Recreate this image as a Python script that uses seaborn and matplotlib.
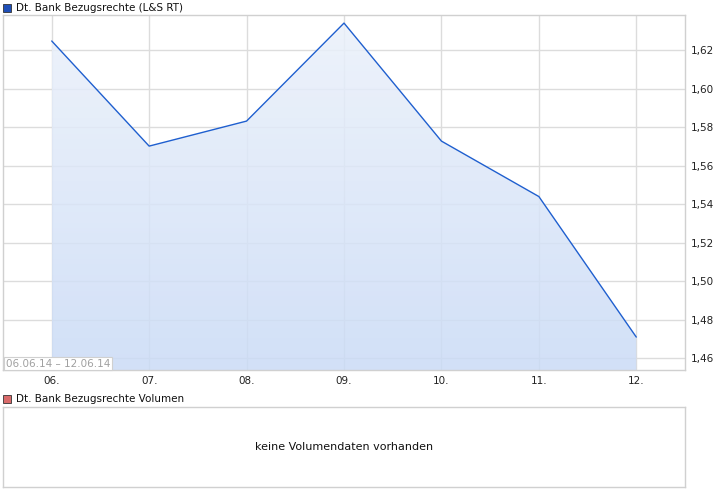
import numpy as np
import pandas as pd
import matplotlib
matplotlib.use("Agg")
import matplotlib.pyplot as plt
from matplotlib.patches import Rectangle
import seaborn as sns

# ==========================================================
# DATA
# ==========================================================

days = [6, 7, 8, 9, 10, 11, 12]
day_labels = ["06.", "07.", "08.", "09.", "10.", "11.", "12."]
prices = [1.6247, 1.5701, 1.5831, 1.6340, 1.5727, 1.5439, 1.4709]
y_ticks = [1.46, 1.48, 1.50, 1.52, 1.54, 1.56, 1.58, 1.60, 1.62]

title_main = "Dt. Bank Bezugsrechte (L&S RT)"
title_vol = "Dt. Bank Bezugsrechte Volumen"
range_label = "06.06.14 \u2013 12.06.14"
no_volume = "keine Volumendaten vorhanden"

df = pd.DataFrame({"day": days, "price": prices})

# ==========================================================
# STYLE
# ==========================================================

sns.set_style("white")
plt.rcParams["font.family"] = ["DejaVu Sans"]

W, H = 726, 496
LINE = "#1f5fcf"
GRID = "#dcdcdc"
EDGE = "#d0d0d0"
YMIN, YMAX = 1.4538, 1.6382

fig = plt.figure(figsize=(W / 100, H / 100), dpi=100)


def fig_box(x0, y0, x1, y1):
    # pixel box -> figure fraction
    return [x0 / W, 1 - y1 / H, (x1 - x0) / W, (y1 - y0) / H]


# ==================== MAIN PRICE PANEL ====================
ax = fig.add_axes(fig_box(3, 15, 685, 370))
ax.set_xlim(5.5, 12.5)
ax.set_ylim(YMIN, YMAX)

# gradient fill under the line (slightly translucent so the grid shows through)
grad = np.linspace(0, 1, 256).reshape(-1, 1)
cmap = matplotlib.colors.LinearSegmentedColormap.from_list(
    "fill", ["#cadbf6", "#ebf1fb"])
img = ax.imshow(grad, cmap=cmap, aspect="auto", origin="lower", alpha=0.85,
                extent=[days[0], days[-1], YMIN, max(prices)], zorder=1)
clip = matplotlib.path.Path(
    np.vstack([[days[0], YMIN]] + [[d, p] for d, p in zip(days, prices)] + [[days[-1], YMIN]]))
img.set_clip_path(clip, transform=ax.transData)

sns.lineplot(data=df, x="day", y="price", ax=ax, color=LINE, lw=1.0, zorder=3)

ax.set_xticks(days)
ax.set_xticklabels(day_labels)
ax.set_yticks(y_ticks)
ax.set_yticklabels([f"{v:.2f}".replace(".", ",") for v in y_ticks])
ax.yaxis.tick_right()
ax.grid(True, color=GRID, lw=1.0, zorder=0)
ax.set_axisbelow(True)
ax.tick_params(axis="both", length=0, labelsize=7.5, colors="#222222", pad=4)
ax.set_xlabel("")
ax.set_ylabel("")
for s in ax.spines.values():
    s.set_color(EDGE)
    s.set_linewidth(1.0)

# date range box in the lower left corner
ax.text(0.004, 0.004, range_label, transform=ax.transAxes, fontsize=7.5,
        color="#a0a0a0", ha="left", va="bottom", zorder=5,
        bbox=dict(boxstyle="square,pad=0.15", fc="white", ec=EDGE, lw=0.8))

# ==================== LEGEND ENTRIES ====================
fig.patches.append(Rectangle((3 / W, 1 - 12 / H), 8 / W, 8 / H, transform=fig.transFigure,
                             fc="#1f4fb8", ec="#333333", lw=0.6))
fig.text(16 / W, 1 - 8 / H, title_main, fontsize=7.5, va="center", ha="left", color="#111111")

fig.patches.append(Rectangle((3 / W, 1 - 403 / H), 8 / W, 8 / H, transform=fig.transFigure,
                             fc="#d96a6a", ec="#333333", lw=0.6))
fig.text(16 / W, 1 - 399 / H, title_vol, fontsize=7.5, va="center", ha="left", color="#111111")

# ==================== VOLUME PANEL ====================
axv = fig.add_axes(fig_box(3, 407, 685, 487))
axv.set_xticks([])
axv.set_yticks([])
for s in axv.spines.values():
    s.set_color(EDGE)
    s.set_linewidth(1.0)
axv.text(0.5, 0.5, no_volume, transform=axv.transAxes, ha="center", va="center",
         fontsize=8, color="#111111")

fig.savefig("out.png", dpi=100, facecolor="white")
